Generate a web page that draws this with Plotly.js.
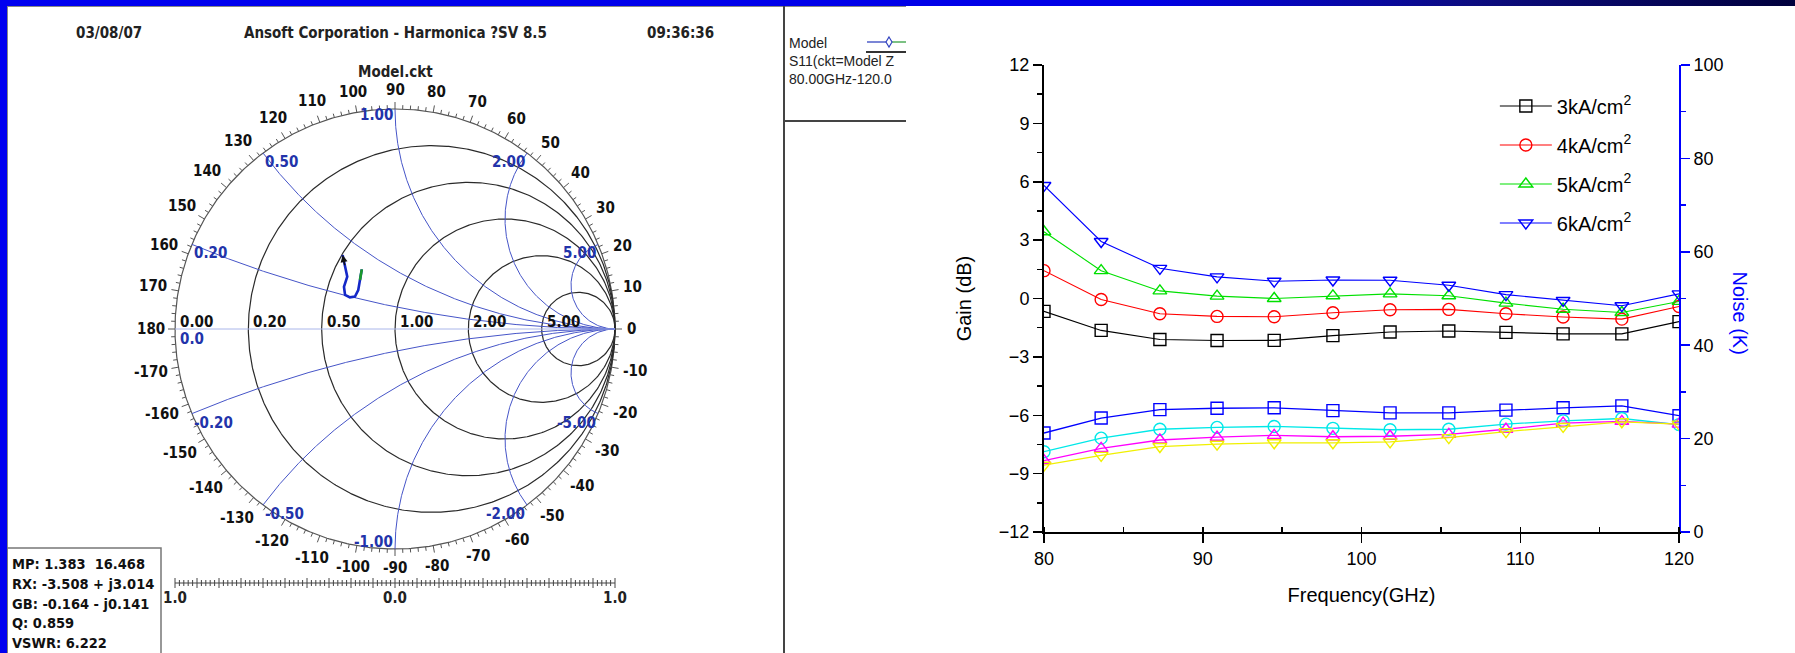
<!DOCTYPE html>
<html>
<head>
<meta charset="utf-8">
<script src="https://cdn.plot.ly/plotly-3.0.1.min.js"></script>
<style>
  html, body { margin:0; padding:0; }
  body { width:1795px; height:653px; overflow:hidden; position:relative; background:#0000f0; }
  #band { position:absolute; left:0; top:0; width:1795px; height:6px;
          background:linear-gradient(to right, #0000f0 0%, #0000e6 64%, #0c0c80 82%, #00003c 100%); }
  #left  { position:absolute; left:7px;   top:6px; width:899px; height:647px; background:#fff; overflow:hidden; }
  #right { position:absolute; left:906px; top:6px; width:889px; height:647px; background:#fff; overflow:hidden; }
</style>
</head>
<body>
<div id="band"></div>
<div id="left"></div>
<div id="right"></div>
<script>
// ---------------- DATA ----------------
// Smith chart grid values (normalized impedance)
const RESISTANCE_TICKS = [0.2, 0.5, 1, 2, 5];
const REACTANCE_TICKS  = [0.2, 0.5, 1, 2, 5, -0.2, -0.5, -1, -2, -5];
const REAL_LABEL_VALUES = [0, 0.2, 0.5, 1, 2, 5];
const REAL_LABEL_TEXT   = ['0.00', '0.20', '0.50', '1.00', '2.00', '5.00'];
const REACT_LABEL_TEXT  = ['0.20', '0.50', '1.00', '2.00', '5.00', '-0.20', '-0.50', '-1.00', '-2.00', '-5.00'];
// Outer angle scale (degrees)
const ANGLE_LABEL_DEG  = [0,10,20,30,40,50,60,70,80,90,100,110,120,130,140,150,160,170,180,
                          -170,-160,-150,-140,-130,-120,-110,-100,-90,-80,-70,-60,-50,-40,-30,-20,-10];
// S11 trace (reflection coefficient, real / imaginary), 80 GHz -> 120 GHz
const S11_RE = [-0.151, -0.159, -0.167, -0.182, -0.205, -0.227, -0.232, -0.217, -0.227, -0.238];
const S11_IM = [ 0.271,  0.223,  0.177,  0.147,  0.144,  0.155,  0.192,  0.238,  0.283,  0.336];
// Marker readout
const READOUT = ['MP: 1.383  16.468', 'RX: -3.508 + j3.014', 'GB: -0.164 - j0.141', 'Q: 0.859', 'VSWR: 6.222'];
const LEGEND_LINES = ['Model', 'S11(ckt=Model Z', '80.00GHz-120.0'];
const SCALE_LABELS = ['1.0', '0.0', '1.0'];
const SCALE_LABEL_POS = [-1, 0, 1];

// Right chart
const FREQ_GHZ = [80, 83.6, 87.3, 90.9, 94.5, 98.2, 101.8, 105.5, 109.1, 112.7, 116.4, 120];
const GAIN_3KA = [-0.66, -1.64, -2.11, -2.16, -2.15, -1.91, -1.72, -1.67, -1.74, -1.82, -1.82, -1.19];
const GAIN_4KA = [ 1.43, -0.05, -0.78, -0.92, -0.94, -0.73, -0.58, -0.56, -0.78, -0.95, -1.06, -0.41];
const GAIN_5KA = [ 3.43,  1.43,  0.39,  0.12,  0.00,  0.14,  0.24,  0.14, -0.24, -0.55, -0.72, -0.15];
const GAIN_6KA = [ 5.81,  2.93,  1.55,  1.11,  0.89,  0.95,  0.94,  0.68,  0.20, -0.10, -0.37,  0.24];
const NOISE_3KA = [21.2, 24.4, 26.2, 26.5, 26.6, 26.0, 25.5, 25.5, 26.1, 26.6, 27.0, 24.9];
const NOISE_4KA = [17.2, 20.1, 22.0, 22.4, 22.6, 22.2, 21.9, 22.0, 23.1, 23.8, 24.3, 23.0];
const NOISE_5KA = [15.3, 17.9, 19.7, 20.3, 20.7, 20.4, 20.5, 20.9, 22.0, 23.3, 23.7, 23.1];
const NOISE_6KA = [14.3, 16.4, 18.3, 18.8, 19.1, 19.1, 19.3, 20.2, 21.5, 22.6, 23.6, 23.1];
const SERIES_NAMES = ['3kA/cm<sup>2</sup>', '4kA/cm<sup>2</sup>', '5kA/cm<sup>2</sup>', '6kA/cm<sup>2</sup>'];

// ---------------- LEFT: Smith chart ----------------
const NARROW = '"Liberation Sans Narrow", "Arial Narrow", "DejaVu Sans Condensed", "Liberation Sans", Arial, sans-serif';
const LW = 899, LH = 647, OX = 7, OY = 6;   // div size / page offset
const CXp = 395, CYp = 329, RP = 220;       // smith center (page px) and radius (px)
const cx = CXp - OX, cy = CYp - OY;
const gx = X => (X - CXp) / RP;              // page px -> data
const gy = Y => (CYp - Y) / RP;

function gammaOf(r, x) {
  const den = (r + 1) * (r + 1) + x * x;
  return [(r * r + x * x - 1) / den, 2 * x / den];
}
const traces = [];
function addLine(xs, ys, color, width) {
  traces.push({type:'scatter', mode:'lines', x:xs, y:ys, hoverinfo:'skip',
               line:{color:color, width:width}});
}
// resistance circles (incl. outer r = 0)
[0].concat(RESISTANCE_TICKS).forEach(r => {
  const xs = [], ys = [];
  const N = 600;
  for (let i = 0; i <= N; i++) {
    const t = -Math.PI / 2 + 1e-4 + (Math.PI - 2e-4) * i / N;
    const g = gammaOf(r, Math.tan(t));
    xs.push(g[0]); ys.push(g[1]);
  }
  xs.push(xs[0]); ys.push(ys[0]);
  addLine(xs, ys, r === 0 ? '#555' : '#2a2a2a', 1.2);
});
// reactance arcs
REACTANCE_TICKS.forEach(x => {
  const xs = [], ys = [];
  const N = 400;
  for (let i = 0; i <= N; i++) {
    const t = (Math.PI / 2 - 1e-4) * i / N;
    const g = gammaOf(Math.tan(t), x);
    xs.push(g[0]); ys.push(g[1]);
  }
  xs.push(1); ys.push(0);
  addLine(xs, ys, '#4655c8', 1);
});
// real axis
addLine([-1, 1], [0, 0], '#aab6ea', 1);

// angle ticks
(function () {
  const xs = [], ys = [];
  for (let d = 0; d < 360; d += 2) {
    const len = (d % 10 === 0) ? 7 : 4;
    const a = d * Math.PI / 180;
    xs.push(Math.cos(a), Math.cos(a) * (1 + len / RP), null);
    ys.push(Math.sin(a), Math.sin(a) * (1 + len / RP), null);
  }
  addLine(xs, ys, '#555', 1);
})();

// lower reflection scale bar
(function () {
  const Yb = 583;
  const xs = [-1, 1, null], ys = [gy(Yb), gy(Yb), null];
  for (let i = 0; i <= 100; i++) {
    const v = -1 + i * 0.02;
    const h = (i % 5 === 0) ? 5 : 3;
    xs.push(v, v, null); ys.push(gy(Yb - h), gy(Yb + h), null);
  }
  addLine(xs, ys, '#444', 1);
})();

// S11 curve
const nS = S11_RE.length;
traces.push({type:'scatter', mode:'lines', x:S11_RE, y:S11_IM, hoverinfo:'skip',
             line:{color:'#1428c8', width:2.6}});
traces.push({type:'scatter', mode:'lines', x:S11_RE.slice(0, 2), y:S11_IM.slice(0, 2), hoverinfo:'skip',
             line:{color:'#1a9a2a', width:2.6}});

const ann = [];
function text(t, x, y, o) {
  ann.push(Object.assign({text:t, x:x, y:y, xref:'x', yref:'y', showarrow:false,
    xanchor:'center', yanchor:'middle',
    font:{family:NARROW, size:15, color:'#111', weight:'bold'}}, o || {}));
}
const HEAD = {family:NARROW, size:15, color:'#222', weight:'bold'};
// header
text('03/08/07', gx(109), gy(33), {font:HEAD});
text('Ansoft Corporation - Harmonica ?SV 8.5', gx(395), gy(33), {font:HEAD});
text('09:36:36', gx(680), gy(33), {font:HEAD});
text('Model.ckt', gx(395), gy(72), {font:HEAD});

// angle labels
ANGLE_LABEL_DEG.forEach(d => {
  const s = String(d);
  const a = d * Math.PI / 180;
  const w = s.replace('-', '').length * 7.6 + (d < 0 ? 4.5 : 0);
  const h = 12;
  const ext = Math.abs(Math.cos(a)) * w / 2 + Math.abs(Math.sin(a)) * h / 2;
  const rr = (233 + ext) / RP;
  text(s, rr * Math.cos(a), rr * Math.sin(a));
});
// real axis labels
REAL_LABEL_VALUES.forEach((r, i) => {
  const g = gammaOf(r, 0);
  text(REAL_LABEL_TEXT[i], g[0], 0, {xanchor:'left', xshift:3, yshift:7});
});
text('0.0', -1, 0, {xanchor:'left', xshift:3, yshift:-10, font:{family:NARROW, size:15, color:'#2233aa', weight:'bold'}});
// reactance labels
REACTANCE_TICKS.forEach((x, i) => {
  const g = gammaOf(0, x);
  text(REACT_LABEL_TEXT[i], g[0], g[1], {
    xanchor: g[0] < -1e-9 ? 'left' : 'right',
    yshift: x === 1 ? -6 : (x === -1 ? 7 : -9),
    font:{family:NARROW, size:15, color:'#2233aa', weight:'bold'}});
});
// scale bar labels
SCALE_LABEL_POS.forEach((v, i) => {
  text(SCALE_LABELS[i], v, gy(598), {font:{family:NARROW, size:15, color:'#222', weight:'bold'}});
});
// readout
READOUT.forEach((s, i) => {
  text(s, gx(10), gy([564, 584, 604, 623, 643][i]), {xanchor:'left',
    font:{family:NARROW, size:14.5, color:'#111', weight:'bold'}});
});
// legend box text
LEGEND_LINES.forEach((s, i) => {
  text(s, gx(787), gy([43, 61, 79][i]), {xanchor:'left',
    font:{family:'"Liberation Sans", Arial, sans-serif', size:14, color:'#222'}});
});
// arrow head at the end of the S11 trace
ann.push({x:S11_RE[nS - 1], y:S11_IM[nS - 1], ax:S11_RE[nS - 2], ay:S11_IM[nS - 2],
  xref:'x', yref:'y', axref:'x', ayref:'y', text:'', showarrow:true,
  arrowhead:2, arrowsize:1, arrowwidth:1.4, arrowcolor:'#111'});

const shapes = [];
function seg(X0, Y0, X1, Y1, color, width) {
  shapes.push({type:'line', xref:'x', yref:'y', x0:gx(X0), y0:gy(Y0), x1:gx(X1), y1:gy(Y1),
    line:{color:color, width:width}});
}
seg(7.5, 6, 7.5, 653, '#888', 1);
seg(7, 6.5, 906, 6.5, '#888', 1);
seg(784, 6, 784, 653, '#444', 2);
seg(784, 121, 906, 121, '#444', 2);
seg(866, 52, 906, 52, '#333', 2);
seg(867, 42, 886, 42, '#3344c0', 1.3);
seg(892, 42, 906, 42, '#33a040', 1.3);
shapes.push({type:'path', xref:'x', yref:'y',
  path:'M' + gx(889) + ',' + gy(37) + ' L' + gx(892) + ',' + gy(42) + ' L' + gx(889) + ',' + gy(47) +
       ' L' + gx(886) + ',' + gy(42) + ' Z', line:{color:'#3344c0', width:1.2}});
shapes.push({type:'rect', xref:'x', yref:'y', x0:gx(7), y0:gy(548), x1:gx(161), y1:gy(655),
  line:{color:'#777', width:1.5}});

const leftLayout = {
  width:LW, height:LH, margin:{l:0, r:0, t:0, b:0},
  paper_bgcolor:'#fff', plot_bgcolor:'#fff', showlegend:false,
  xaxis:{range:[-cx / RP, (LW - cx) / RP], visible:false, fixedrange:true},
  yaxis:{range:[-(LH - cy) / RP, cy / RP], visible:false, fixedrange:true},
  annotations:ann, shapes:shapes
};
Plotly.newPlot('left', traces, leftLayout, {staticPlot:true, displayModeBar:false});

// ---------------- RIGHT: gain / noise ----------------
const gainSets = [GAIN_3KA, GAIN_4KA, GAIN_5KA, GAIN_6KA];
const noiseSets = [NOISE_3KA, NOISE_4KA, NOISE_5KA, NOISE_6KA];
const gainColors = ['#000000', '#ff0000', '#00e000', '#0000ff'];
const noiseColors = ['#0000ff', '#00e8e8', '#ff00ff', '#f0f000'];
const symbols = ['square-open', 'circle-open', 'triangle-up-open', 'triangle-down-open'];

const rTraces = [];
gainSets.forEach((g, i) => {
  rTraces.push({type:'scatter', mode:'lines+markers', x:FREQ_GHZ, y:g, name:SERIES_NAMES[i],
    legendgroup:'g' + i, xaxis:'x', yaxis:'y',
    line:{color:gainColors[i], width:1.1},
    marker:{symbol:symbols[i], size:12, color:gainColors[i], line:{width:1.4, color:gainColors[i]}}});
});
noiseSets.forEach((n, i) => {
  rTraces.push({type:'scatter', mode:'lines+markers', x:FREQ_GHZ, y:n, name:'Noise ' + i,
    showlegend:false, xaxis:'x', yaxis:'y2',
    line:{color:noiseColors[i], width:1.3},
    marker:{symbol:symbols[i], size:12, color:noiseColors[i], line:{width:1.4, color:noiseColors[i]}}});
});

const AX_FONT = {family:'"Liberation Sans", Arial, sans-serif', size:18, color:'#000'};
const rightLayout = {
  width:889, height:647, margin:{l:138, r:116, t:59, b:121},
  paper_bgcolor:'#fff', plot_bgcolor:'#fff',
  font:{family:'"Liberation Sans", Arial, sans-serif', color:'#000'},
  xaxis:{range:[80, 120], tick0:80, dtick:10, ticks:'outside', ticklen:9, tickwidth:1.5, tickcolor:'#000',
    showline:true, linecolor:'#000', linewidth:2, showgrid:false, zeroline:false, tickfont:AX_FONT,
    minor:{dtick:5, ticks:'inside', ticklen:5, tickwidth:1.5, tickcolor:'#000', showgrid:false},
    title:{text:'Frequency(GHz)', font:{size:20, color:'#000'}, standoff:20}, fixedrange:true},
  xaxis2:{overlaying:'x', side:'top', range:[80, 120], tick0:80, dtick:10, ticks:'inside', ticklen:8,
    tickwidth:1.5, tickcolor:'#000', showline:true, linecolor:'#000', linewidth:2, showticklabels:false,
    showgrid:false, zeroline:false,
    minor:{dtick:5, ticks:'inside', ticklen:5, tickwidth:1.5, tickcolor:'#000', showgrid:false}},
  yaxis:{range:[-12, 12], tick0:-12, dtick:3, ticks:'outside', ticklen:9, tickwidth:1.5, tickcolor:'#000',
    showline:true, linecolor:'#000', linewidth:2, showgrid:false, zeroline:false, tickfont:AX_FONT,
    minor:{dtick:1.5, ticks:'outside', ticklen:5, tickwidth:1.5, tickcolor:'#000', showgrid:false},
    title:{text:'Gain (dB)', font:{size:20, color:'#000'}, standoff:22}, fixedrange:true},
  yaxis2:{overlaying:'y', side:'right', range:[0, 100], tick0:0, dtick:20, ticks:'outside', ticklen:9,
    tickwidth:1.5, tickcolor:'#0000ff', showline:true, linecolor:'#0000ff', linewidth:2, showgrid:false,
    zeroline:false, tickfont:AX_FONT,
    minor:{dtick:10, ticks:'outside', ticklen:5, tickwidth:1.5, tickcolor:'#0000ff', showgrid:false},
    fixedrange:true},
  showlegend:true,
  legend:{x:0.71, y:0.954, xanchor:'left', yanchor:'top', bgcolor:'rgba(0,0,0,0)',
    font:{family:'"Liberation Sans", Arial, sans-serif', size:20, color:'#000'},
    tracegroupgap:10, itemwidth:52},
  annotations:[{text:'Noise (K)', textangle:90, xref:'paper', yref:'paper', x:1, y:0.47,
    xanchor:'center', yanchor:'middle', xshift:61, showarrow:false,
    font:{family:'"Liberation Sans", Arial, sans-serif', size:20, color:'#0000ff'}}]
};
Plotly.newPlot('right', rTraces, rightLayout, {staticPlot:true, displayModeBar:false});
</script>
</body>
</html>
